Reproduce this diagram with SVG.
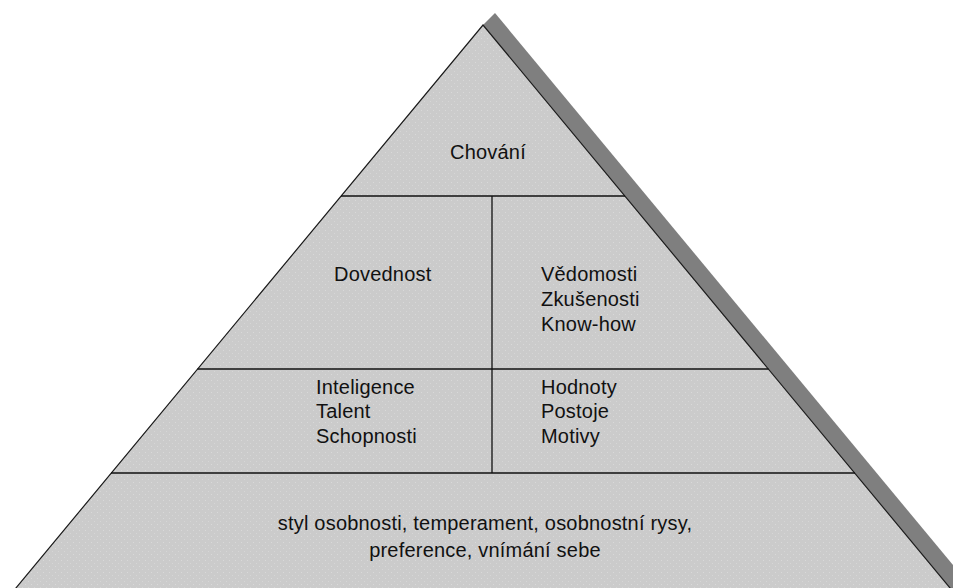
<svg xmlns="http://www.w3.org/2000/svg" width="953" height="588" viewBox="0 0 953 588">
  <style>
    .cell { fill: url(#dots); stroke: none; }
    .edge { fill: none; stroke: #1a1a1a; stroke-width: 1.2; }
    .div { stroke: #111; stroke-width: 1.3; fill: none; }
    text { font-family: "Liberation Sans", Arial, sans-serif; font-size: 20px; letter-spacing: 0.2px; fill: #111; }
    .c { text-anchor: middle; }
  </style>
  <defs>
    <pattern id="dots" width="6" height="6" patternUnits="userSpaceOnUse">
      <rect width="6" height="6" fill="#cbcbcb"/>
      <rect x="1" y="2" width="1" height="1" fill="#d9d9d9"/>
      <rect x="4" y="5" width="1" height="1" fill="#d6d6d6"/>
    </pattern>
  </defs>
  <rect width="953" height="588" fill="#ffffff"/>
  <polygon id="shadow" points="483,25 495,13 982,600 960,600" fill="#7f7f7f"/>
  <g id="chovani">
    <polygon class="cell" points="483,25 625,196 341,196"/>
    <text class="c" x="488" y="159">Chování</text>
  </g>
  <g id="dovednost">
    <polygon class="cell" points="341,196 492,196 492,369 197.5,369"/>
    <text x="334" y="281">Dovednost</text>
  </g>
  <g id="vedomosti">
    <polygon class="cell" points="492,196 625,196 768.5,369 492,369"/>
    <text x="541" y="281">Vědomosti</text>
    <text x="541" y="306">Zkušenosti</text>
    <text x="541" y="331">Know-how</text>
  </g>
  <g id="inteligence">
    <polygon class="cell" points="197.5,369 492,369 492,473 111,473"/>
    <text x="316" y="394">Inteligence</text>
    <text x="316" y="418">Talent</text>
    <text x="316" y="443">Schopnosti</text>
  </g>
  <g id="hodnoty">
    <polygon class="cell" points="492,369 768.5,369 855,473 492,473"/>
    <text x="541" y="394">Hodnoty</text>
    <text x="541" y="418">Postoje</text>
    <text x="541" y="443">Motivy</text>
  </g>
  <g id="zaklad">
    <polygon class="cell" points="111,473 855,473 960,600 6,600"/>
    <text class="c" x="485" y="530">styl osobnosti, temperament, osobnostní rysy,</text>
    <text class="c" x="485" y="557">preference, vnímání sebe</text>
  </g>
  <g id="connectors">
    <polyline class="edge" points="6,600 483,25 960,600"/>
    <line class="div" x1="341" y1="196" x2="625" y2="196"/>
    <line class="div" x1="197.5" y1="369" x2="768.5" y2="369"/>
    <line class="div" x1="111" y1="473" x2="855" y2="473"/>
    <line class="div" x1="492" y1="196" x2="492" y2="473"/>
  </g>
</svg>
